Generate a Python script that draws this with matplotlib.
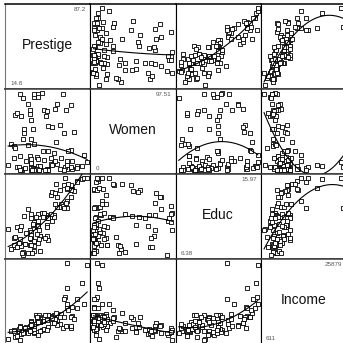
import numpy as np
import matplotlib.pyplot as plt

plt.rcParams['font.family'] = ['Liberation Sans', 'DejaVu Sans']

# Canadian occupational prestige data (102 occupations)
prestige = [68.8, 69.1, 63.4, 56.8, 73.5, 77.6, 72.6, 78.1, 73.1, 68.8,
            62.0, 60.0, 53.8, 62.2, 74.9, 55.1, 82.3, 58.1, 58.3, 72.8,
            84.6, 59.6, 66.1, 87.2, 66.7, 68.4, 64.7, 34.9, 72.1, 69.3,
            67.5, 57.2, 57.6, 54.1, 46.0, 41.9, 49.4, 42.3, 47.7, 30.9,
            32.7, 38.7, 36.1, 37.2, 38.1, 29.4, 51.1, 35.7, 35.6, 41.5,
            40.2, 26.5, 14.8, 23.3, 47.3, 47.1, 51.1, 43.5, 51.6, 29.7,
            20.2, 54.9, 25.9, 20.8, 17.3, 20.1, 44.1, 21.5, 35.3, 38.9,
            25.2, 34.8, 23.2, 33.3, 28.8, 42.5, 44.2, 35.9, 41.8, 35.9,
            43.7, 50.8, 37.2, 28.2, 38.1, 50.3, 27.3, 40.9, 50.2, 51.1,
            38.9, 36.2, 29.9, 42.9, 26.5, 66.1, 48.9, 35.9, 25.1, 26.1,
            42.2, 35.2]
women = [11.16, 4.02, 15.70, 9.11, 11.68, 5.13, 25.65, 2.69, 1.03, 0.94,
         1.91, 7.83, 15.33, 57.31, 48.28, 54.77, 5.13, 77.10, 34.89, 4.14,
         19.59, 83.78, 46.80, 10.56, 4.32, 6.91, 96.12, 76.14, 82.66, 24.71,
         76.04, 21.03, 11.15, 8.13, 97.51, 95.97, 68.24, 91.76, 75.92, 11.37,
         83.19, 92.86, 7.62, 52.27, 96.14, 47.06, 56.10, 39.17, 63.23, 17.04,
         3.16, 67.82, 7.00, 3.69, 13.09, 24.44, 23.88, 0.00, 1.65, 52.00,
         15.51, 6.01, 96.53, 69.31, 33.57, 30.08, 3.60, 27.75, 0.00, 33.30,
         17.26, 17.26, 72.24, 31.36, 39.48, 1.50, 4.28, 2.30, 5.17, 13.62,
         5.78, 74.54, 2.92, 90.67, 0.81, 0.78, 0.00, 1.34, 0.99, 0.65,
         0.56, 0.52, 2.46, 0.61, 1.09, 0.58, 0.00, 9.47, 3.59, 0.00,
         13.58, 70.87]
educ = [13.11, 12.26, 12.77, 11.42, 14.62, 15.64, 15.09, 15.44, 14.52, 14.64,
        12.39, 12.30, 13.83, 14.44, 14.36, 14.21, 15.77, 14.15, 15.22, 14.50,
        15.97, 13.62, 15.08, 15.96, 15.94, 14.71, 12.46, 9.45, 13.62, 15.21,
        12.79, 11.09, 12.71, 11.44, 11.59, 11.49, 11.32, 10.64, 11.36, 9.17,
        12.09, 11.04, 9.22, 10.07, 10.51, 11.20, 11.13, 11.43, 11.00, 9.84,
        11.13, 10.05, 9.62, 9.93, 11.60, 11.09, 11.03, 9.47, 10.93, 7.74,
        8.50, 10.57, 9.46, 7.33, 7.11, 7.58, 6.84, 8.60, 8.88, 7.54,
        7.64, 7.64, 7.42, 6.69, 6.74, 10.09, 8.81, 8.40, 7.92, 8.43,
        8.78, 8.76, 10.29, 6.38, 8.10, 10.10, 6.67, 9.05, 9.93, 8.24,
        6.92, 6.60, 7.81, 8.33, 7.52, 12.27, 8.49, 7.58, 7.93, 8.37,
        10.00, 8.55]
income = [12351, 25879, 9271, 8865, 8403, 11030, 8258, 14163, 11377, 11023,
          5902, 7059, 8425, 8049, 7405, 6336, 19263, 6112, 9593, 4686,
          12480, 5648, 8034, 25308, 14558, 17498, 4614, 3485, 5092, 10432,
          5180, 6197, 7562, 8206, 4036, 3148, 4348, 2448, 4330, 4761,
          3016, 2901, 5511, 3739, 3161, 4741, 5052, 6259, 4075, 7482,
          8780, 2594, 918, 2370, 8131, 6992, 7956, 8895, 8891, 3116,
          3930, 7869, 611, 3000, 3472, 3582, 3643, 1656, 6860, 4199,
          5134, 5134, 1890, 4443, 3485, 8043, 6686, 6565, 6477, 5811,
          6573, 3942, 5449, 2847, 5795, 7716, 4696, 8316, 7147, 8880,
          5299, 5959, 4549, 6928, 3910, 14032, 8845, 5562, 4224, 4753,
          6462, 3617]

names = ["Prestige", "Women", "Educ", "Income"]
min_labels = ["14.8", "0", "6.38", "611"]
max_labels = ["87.2", "97.51", "15.97", "25879"]
columns = [np.array(v, dtype=float) for v in (prestige, women, educ, income)]

W, H = 343, 343
fig = plt.figure(figsize=(W / 100, H / 100), dpi=100)

x0, y0 = 5.0, 4.0
cw, ch = 85.3, 85.0
n = len(names)

for i in range(n):
    for j in range(n):
        left = (x0 + j * cw) / W
        bottom = 1 - (y0 + (i + 1) * ch) / H
        ax = fig.add_axes([left, bottom, cw / W, ch / H])
        ax.set_xticks([])
        ax.set_yticks([])
        for side in ("left", "right"):
            ax.spines[side].set_linewidth(0.8)
            ax.spines[side].set_color("black")
        for side in ("top", "bottom"):
            ax.spines[side].set_linewidth(1.1)
            ax.spines[side].set_color("#3a3a3a")
        if j == 0:
            ax.spines["left"].set_color("#777777")
        if i == 0:
            ax.spines["top"].set_color("black")

        xv = columns[j]
        yv = columns[i]
        xr = xv.max() - xv.min()
        yr = yv.max() - yv.min()
        ax.set_xlim(xv.min() - 0.04 * xr, xv.max() + 0.04 * xr)
        ax.set_ylim(yv.min() - 0.05 * yr, yv.max() + 0.05 * yr)

        if i == j:
            ax.text(0.5, 0.52, names[i], transform=ax.transAxes,
                    ha="center", va="center", fontsize=10, color="#111111")
            ax.text(0.95, 0.93, max_labels[i], transform=ax.transAxes,
                    ha="right", va="center", fontsize=4.5, color="#555555")
            ax.text(0.06, 0.06, min_labels[i], transform=ax.transAxes,
                    ha="left", va="center", fontsize=4.5, color="#555555")
            continue

        # quadratic least-squares fit of row variable on column variable
        coef = np.polyfit(xv, yv, 2)
        xs = np.linspace(xv.min(), xv.max(), 200)
        ys = np.polyval(coef, xs)
        ax.scatter(xv, yv, marker="s", s=5, facecolors="white",
                   edgecolors="black", linewidths=0.6, zorder=2)
        ax.plot(xs, ys, color="black", linewidth=0.8, zorder=3)

fig.savefig("out.png", dpi=100)
